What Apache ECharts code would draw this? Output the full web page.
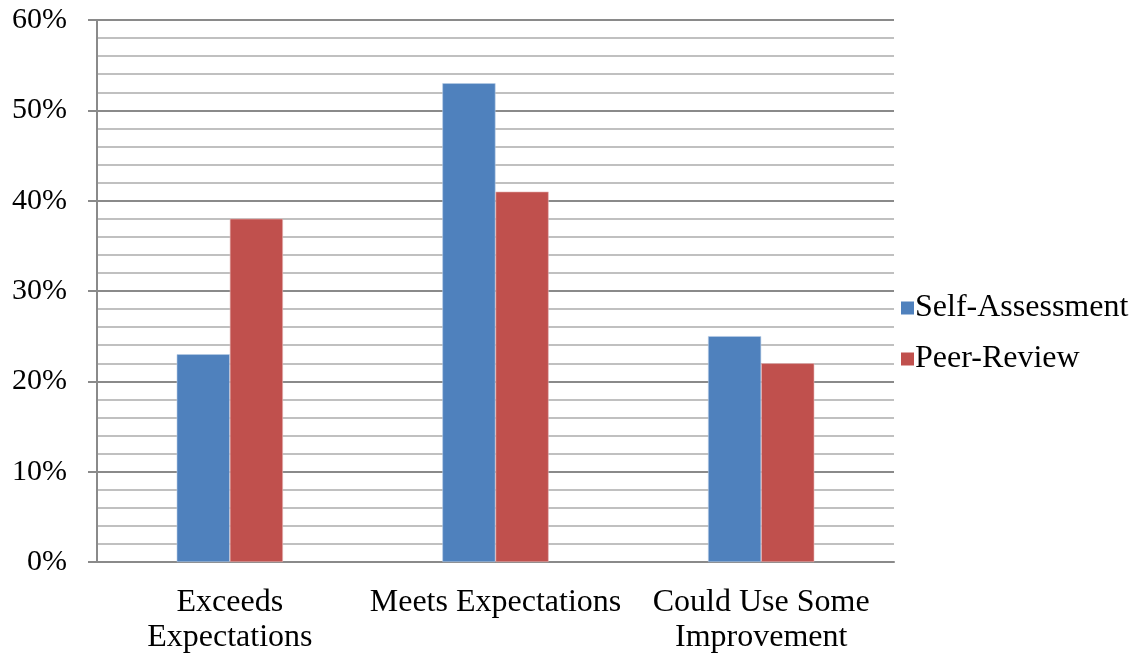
<!DOCTYPE html>
<html>
<head>
<meta charset="utf-8">
<script src="https://cdn.jsdelivr.net/npm/echarts@6/dist/echarts.min.js"></script>
<style>
  html, body { margin: 0; padding: 0; background: #fff; }
  #chart { width: 1144px; height: 655px; }
</style>
</head>
<body>
<div id="chart"></div>
<script>
// Ratings, in percent of responses
const categories = ['Exceeds\nExpectations', 'Meets Expectations', 'Could Use Some\nImprovement'];
const selfAssessment = [23, 53, 25];
const peerReview = [38, 41, 22];
const seriesNames = ['Self-Assessment', 'Peer-Review'];

const serif = '"Liberation Serif", "Times New Roman", serif';

const chart = echarts.init(document.getElementById('chart'));
chart.setOption({
  animation: false,
  backgroundColor: '#ffffff',
  grid: { left: 97, right: 250, top: 20, bottom: 92, containLabel: false },
  legend: {
    orient: 'vertical',
    left: 896,
    top: 285,
    itemWidth: 13,
    itemHeight: 13,
    itemGap: 15,
    icon: 'rect',
    itemStyle: { borderWidth: 0 },
    textStyle: { fontFamily: serif, fontSize: 32, color: '#000', padding: [0, 0, 0, -4], lineHeight: 36 },
    data: seriesNames
  },
  xAxis: {
    type: 'category',
    data: categories,
    axisLine: { show: true, lineStyle: { color: '#8a8a8a', width: 2 } },
    axisTick: { show: false },
    axisLabel: { interval: 0, fontFamily: serif, fontSize: 32, color: '#000', lineHeight: 35, margin: 23 }
  },
  yAxis: {
    type: 'value',
    min: 0,
    max: 60,
    interval: 10,
    axisLine: { show: true, lineStyle: { color: '#8a8a8a', width: 2 } },
    axisTick: { show: true, length: 9, lineStyle: { color: '#8a8a8a', width: 2 } },
    axisLabel: { formatter: '{value}%', fontFamily: serif, fontSize: 30, color: '#000', margin: 30 },
    splitLine: { show: true, lineStyle: { color: '#8a8a8a', width: 2 } },
    minorTick: { show: false, splitNumber: 5 },
    minorSplitLine: { show: true, lineStyle: { color: '#c0c0c0', width: 2 } }
  },
  series: [
    {
      name: seriesNames[0],
      type: 'bar',
      data: selfAssessment,
      barCategoryGap: '60%',
      barGap: '0%',
      itemStyle: { color: '#4F81BD', borderColor: '#b9cde5', borderWidth: 0.6 }
    },
    {
      name: seriesNames[1],
      type: 'bar',
      data: peerReview,
      barCategoryGap: '60%',
      barGap: '0%',
      itemStyle: { color: '#C0504D', borderColor: '#e6b9b8', borderWidth: 0.6 }
    }
  ]
});
</script>
</body>
</html>
